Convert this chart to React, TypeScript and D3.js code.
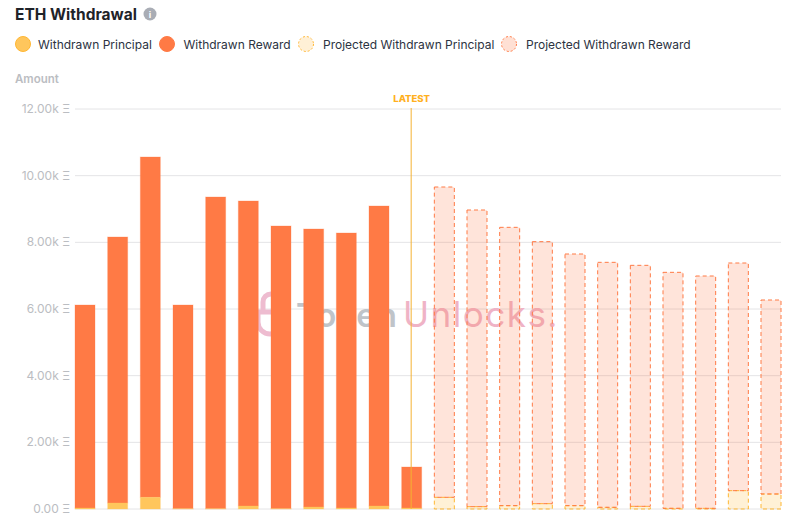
import { scaleBand, scaleLinear } from "d3";

const width = 800;
const height = 531;

const slots = ["1","2","3","4","5","6","7","8","9","10","11","12","13","14","15","16","17","18","19","20","21","22"];
const principal = [30, 180, 350, 10, 10, 90, 10, 60, 30, 90, 30];
const totals = [6120, 8160, 10560, 6120, 9360, 9240, 8490, 8400, 8280, 9090, 1260];
const projectedPrincipal = [350, 70, 100, 160, 100, 50, 80, 20, 20, 550, 450];
const projectedTotals = [9660, 8970, 8450, 8020, 7650, 7400, 7310, 7100, 6990, 7380, 6270];
const yTicks = [0, 2000, 4000, 6000, 8000, 10000, 12000];
const legendItems = [
  { label: "Withdrawn Principal", x: 24, textX: 38, fill: "#ffc65c", stroke: "#ffb733", dash: "" },
  { label: "Withdrawn Reward", x: 168, textX: 183.5, fill: "#ff7a45", stroke: "#ff7a45", dash: "" },
  { label: "Projected Withdrawn Principal", x: 307, textX: 323, fill: "#fff0d6", stroke: "#ffb733", dash: "2 2" },
  { label: "Projected Withdrawn Reward", x: 510, textX: 526, fill: "#ffe0d4", stroke: "#ff7a45", dash: "2 2" },
];

const font = "Inter, sans-serif";

const App = () => {
  const xScale = scaleBand().domain(slots).range([75, 781]).paddingInner(0.388).paddingOuter(0);
  const yScale = scaleLinear().domain([0, 12000]).range([509, 109]);
  const bw = xScale.bandwidth();
  const latestX = (xScale("11") ?? 0) + bw / 2 - 0.5;

  return (
    <svg width={width} height={height} style={{ position: "absolute", left: 0, top: 0, background: "#fff" }} fontFamily={font}>
      <text x={15} y={20} fontSize={15.5} fontWeight={700} fill="#1f2329">ETH Withdrawal</text>
      <circle cx={150} cy={14} r={6.5} fill="#a9adb5" />
      <text x={150} y={17.5} fontSize={9} fontWeight={700} fill="#fff" textAnchor="middle">i</text>

      {legendItems.map((d) => (
        <g key={d.label}>
          <circle cx={d.x - 1} cy={44} r={7.5} fill={d.fill} stroke={d.stroke} strokeDasharray={d.dash} />
          <text x={d.textX} y={49} fontSize={12} fill="#2c3342">{d.label}</text>
        </g>
      ))}

      <text x={15} y={83} fontSize={11.5} fontWeight={600} fill="#bbbdc2">Amount</text>

      {yTicks.map((t) => (
        <g key={t}>
          <line x1={75} x2={781} y1={yScale(t)} y2={yScale(t)} stroke="#e4e4e6" strokeWidth={1} />
          <text x={70} y={yScale(t) + 4} fontSize={12} fill="#bbbdc2" textAnchor="end">
            {(t / 1000).toFixed(2)}{t > 0 ? "k" : ""} Ξ
          </text>
        </g>
      ))}

      {/* watermark */}
      <g>
        <path d="M263 312 v-10 a8 8 0 0 1 16 0 v10 M258 312 h24 v10 a12 12 0 0 1 -24 0 z" fill="none" stroke="#eebcd0" strokeWidth={5} />
        <text x={296} y={327} fontSize={33} letterSpacing={1} fontWeight={600} fill="#c0c4c9">Token</text>
        <text x={403} y={327} fontSize={35} letterSpacing={1.5} fontWeight={400} fill="#efb3c6">Unlocks.</text>
      </g>

      {totals.map((d, i) => {
        const x = xScale(slots[i]) ?? 0;
        return (
          <g key={i}>
            <rect x={x} y={yScale(d)} width={bw} height={yScale(principal[i]) - yScale(d)} fill="#ff7a45" stroke="#ff7a45" strokeOpacity={0.3} />
            <rect x={x} y={yScale(principal[i])} width={bw} height={yScale(0) - yScale(principal[i])} fill="#ffc65c" stroke="#ffc65c" strokeOpacity={0.3} />
          </g>
        );
      })}

      {projectedTotals.map((d, i) => {
        const x = xScale(slots[i + totals.length]) ?? 0;
        return (
          <g key={i}>
            <rect x={x} y={yScale(projectedPrincipal[i])} width={bw} height={yScale(0) - yScale(projectedPrincipal[i])} fill="#ffb733" fillOpacity={0.2} stroke="#ffb733" strokeDasharray="4 3" />
            <rect x={x} y={yScale(d)} width={bw} height={yScale(projectedPrincipal[i]) - yScale(d)} fill="#ff7a45" fillOpacity={0.2} stroke="#ff7a45" strokeDasharray="4 3" />
          </g>
        );
      })}

      <line x1={latestX} x2={latestX} y1={108} y2={509} stroke="#f5b233" strokeWidth={1} />
      <text x={latestX + 0.5} y={102} fontSize={9.5} fontWeight={800} fill="#ffb020" textAnchor="middle">LATEST</text>
    </svg>
  );
};

export default App;
